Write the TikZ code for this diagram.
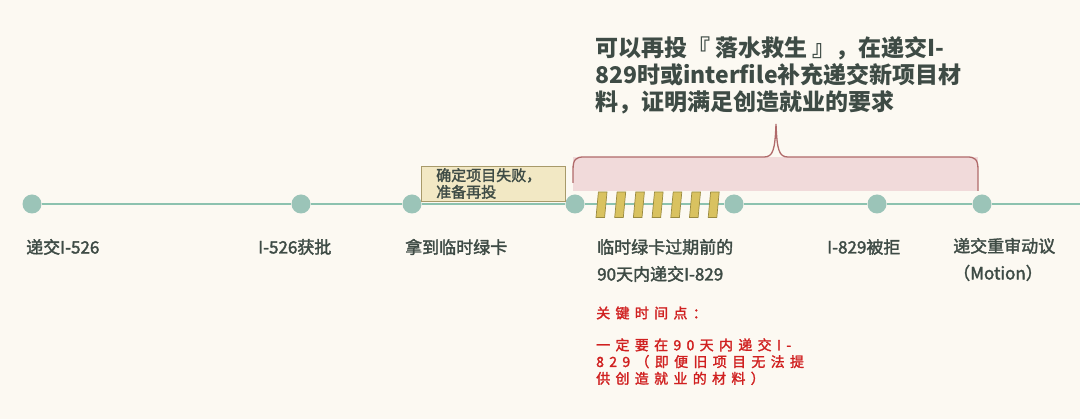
\documentclass[tikz,border=0pt]{standalone}
\usepackage{fontspec}
\usepackage{tikz}
\setmainfont{Noto Sans CJK SC}
\newfontfamily\medfont[FakeBold=2]{Noto Sans CJK SC}
\newfontfamily\redfont[LetterSpace=38, FakeBold=1.8]{Noto Sans CJK SC}
\definecolor{bgcream}{HTML}{FCF9F2}
\definecolor{dotgreen}{HTML}{9BC4B8}
\definecolor{linegreen}{HTML}{8CC2AF}
\definecolor{txtgray}{HTML}{3E4B45}
\definecolor{bracered}{HTML}{B06A6A}
\definecolor{bracefill}{HTML}{F1DADA}
\definecolor{boxfill}{HTML}{F2E8C4}
\definecolor{boxline}{HTML}{A89A6A}
\definecolor{barfill}{HTML}{D9C260}
\definecolor{barline}{HTML}{9A8A40}
\definecolor{keyred}{HTML}{D02020}

\begin{document}
\begin{tikzpicture}[x=1pt, y=-1pt,
    dot/.style={circle, fill=dotgreen, minimum size=19pt, inner sep=0pt},
    tl/.style={linegreen, line width=1.5pt},
    lab/.style={anchor=west, inner sep=0pt, align=left, text=txtgray, font=\medfont\fontsize{17}{27}\selectfont},
    note/.style={anchor=west, inner sep=0pt, align=left, text=keyred, font=\redfont\fontsize{14}{16.7}\selectfont}]
    \fill[bgcream] (0,0) rectangle (1080,419);
    \useasboundingbox (0,0) rectangle (1080,419);
    % time line
    \node[dot] (d1) at (32,204) {};
    \node[dot] (d2) at (301,204) {};
    \node[dot] (d3) at (412,204) {};
    \node[dot] (d4) at (575,204) {};
    \node[dot] (d5) at (734,204) {};
    \node[dot] (d6) at (877,204) {};
    \node[dot] (d7) at (982,204) {};
    \coordinate (tend) at (1080,204);
    \draw[tl] (d1) -- (d2);
    \draw[tl] (d2) -- (d3);
    \draw[tl] (d3) -- (d4);
    \draw[tl] (d4) -- (d5);
    \draw[tl] (d5) -- (d6);
    \draw[tl] (d6) -- (d7);
    \draw[tl] (d7) -- (tend);
    % 90 days
    \foreach \i in {0,...,6}
        \draw[fill=barfill, draw=barline, line width=0.7pt]
            ({596+18.7*\i},217.5) -- ({598.4+18.7*\i},192) -- ({607+18.7*\i},192) -- ({604.6+18.7*\i},217.5) -- cycle;
    % brace
    \fill[bracefill] (573,157) rectangle (978,191);
    \draw[bracered, line width=1.3pt]
        (573,183) -- (573,170) .. controls (573,159) and (576,157) .. (584,157)
        -- (764,157) .. controls (773,157) and (775,150) .. (776,124)
        .. controls (777,150) and (779,157) .. (788,157)
        -- (967,157) .. controls (975,157) and (978,159) .. (978,170) -- (978,191);
    \node[draw=boxline, fill=boxfill, line width=0.8pt, minimum width=144pt, minimum height=35pt, anchor=north west, inner sep=0pt] (fail) at (421,166) {};
    \node[anchor=west, align=left, inner sep=0pt, text=txtgray, font=\medfont\fontsize{15}{16.7}\selectfont] (failtxt) at (436,183.5) {确定项目失败，\\准备再投};
    % labels
    \node[lab] (l1) at (26,247) {递交I-526};
    \node[lab] (l2) at (258,247) {I-526获批};
    \node[lab] (l3) at (405,247) {拿到临时绿卡};
    \node[lab] (l4) at (597,260.5) {临时绿卡过期前的\\90天内递交I-829};
    \node[lab] (l5) at (827,247) {I-829被拒};
    \node[lab] (l6) at (953,259.5) {递交重审动议\\（Motion）};
    \node[anchor=west, inner sep=0pt, align=left, text=txtgray, font=\bfseries\fontsize{23}{27}\selectfont] (top) at (595,75) {可以再投『 落水救生 』，在递交I-\\829时或interfile补充递交新项目材\\料，证明满足创造就业的要求};
    \node[note] (key) at (596,313) {关键时间点：};
    \node[note] (keytxt) at (596,361.7) {一定要在90天内递交I-\\829（即便旧项目无法提\\供创造就业的材料）};
\end{tikzpicture}
\end{document}
